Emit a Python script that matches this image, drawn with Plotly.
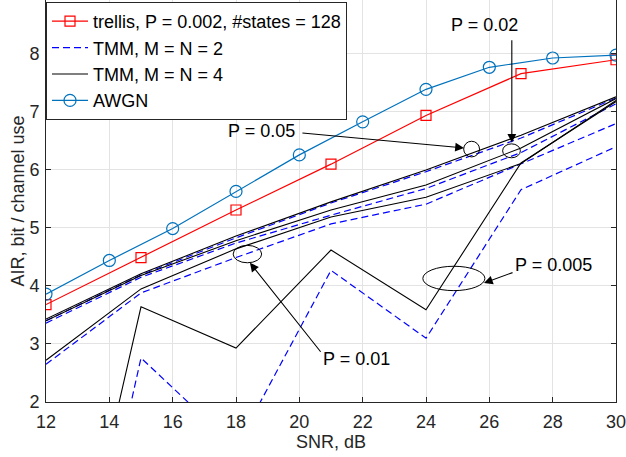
import plotly.graph_objects as go

# ---------------- data ----------------
snr = [12, 15, 18, 21, 24, 27, 30]
snr_awgn = [12, 14, 16, 18, 20, 22, 24, 26, 28, 30]

air_trellis = [3.68, 4.49, 5.31, 6.10, 6.94, 7.66, 7.90]
air_awgn = [3.86, 4.44, 4.99, 5.63, 6.26, 6.83, 7.39, 7.77, 7.93, 7.98]

# TMM, M = N = 4 (solid black)
tmm4_p050 = [3.43, 4.21, 4.86, 5.45, 6.00, 6.60, 7.26]
tmm4_p020 = [3.40, 4.18, 4.78, 5.31, 5.74, 6.38, 7.23]
tmm4_p010 = [2.72, 3.95, 4.64, 5.19, 5.53, 6.11, 7.20]
tmm4_p005 = [-3.50, 3.64, 2.93, 4.62, 3.59, 6.12, 7.18]

# TMM, M = N = 2 (dashed blue)
tmm2_p050 = [3.40, 4.19, 4.83, 5.43, 5.97, 6.55, 7.24]
tmm2_p020 = [3.36, 4.15, 4.74, 5.22, 5.68, 6.30, 7.14]
tmm2_p010 = [2.65, 3.88, 4.49, 5.07, 5.41, 6.10, 6.80]
tmm2_p005 = [-4.60, 2.76, 1.22, 4.27, 3.10, 5.66, 6.40]

x_ticks = [12, 14, 16, 18, 20, 22, 24, 26, 28, 30]
y_ticks = [2, 3, 4, 5, 6, 7, 8]

FONT = "Liberation Sans, Arial, Helvetica, sans-serif"
TXT = "#262626"

fig = go.Figure()

fig.add_trace(go.Scatter(
    x=snr, y=air_trellis, mode="lines+markers",
    name="trellis, P = 0.002, #states = 128",
    line=dict(color="#ff0000", width=1.2),
    marker=dict(symbol="square-open", size=10, color="#ff0000", line=dict(width=1.2)),
    legendrank=1,
))

for i, ys in enumerate([tmm2_p050, tmm2_p020, tmm2_p010, tmm2_p005]):
    fig.add_trace(go.Scatter(
        x=snr, y=ys, mode="lines", name="TMM, M = N = 2",
        line=dict(color="#0000ff", width=1.2, dash="7px,4px"),
        showlegend=(i == 0), legendrank=2,
    ))

for i, ys in enumerate([tmm4_p050, tmm4_p020, tmm4_p010, tmm4_p005]):
    fig.add_trace(go.Scatter(
        x=snr, y=ys, mode="lines", name="TMM, M = N = 4",
        line=dict(color="#000000", width=1.1),
        showlegend=(i == 0), legendrank=3,
    ))

fig.add_trace(go.Scatter(
    x=snr_awgn, y=air_awgn, mode="lines+markers", name="AWGN",
    line=dict(color="#0072BD", width=1.2),
    marker=dict(symbol="circle-open", size=12, color="#0072BD", line=dict(width=1.2)),
    legendrank=4,
))

# ---------------- ellipses ----------------
ellipses = [
    (25.44, 6.36, 0.25, 0.135),
    (26.70, 6.33, 0.28, 0.12),
    (24.88, 4.13, 0.98, 0.21),
    (18.36, 4.55, 0.45, 0.15),
]
for cx, cy, rx, ry in ellipses:
    fig.add_shape(type="circle", xref="x", yref="y",
                  x0=cx - rx, x1=cx + rx, y0=cy - ry, y1=cy + ry,
                  line=dict(color="#000000", width=1))

# ---------------- labels and arrows ----------------
labels = [
    ("P = 0.05", 18.82, 6.67),
    ("P = 0.02", 25.86, 8.50),
    ("P = 0.005", 28.04, 4.36),
    ("P = 0.01", 21.82, 2.74),
]
for t, x, y in labels:
    fig.add_annotation(x=x, y=y, text=t, showarrow=False, xref="x", yref="y",
                       font=dict(family=FONT, size=18, color="#000000"),
                       xanchor="center", yanchor="middle")

arrows = [
    (25.20, 6.38, 20.05, 6.64),
    (26.71, 6.47, 26.71, 8.26),
    (25.83, 4.05, 26.78, 4.24),
    (18.44, 4.40, 20.71, 2.84),
]
for x, y, ax, ay in arrows:
    fig.add_annotation(x=x, y=y, ax=ax, ay=ay, xref="x", yref="y",
                       axref="x", ayref="y", text="", showarrow=True,
                       arrowhead=2, arrowsize=1.6, arrowwidth=1.1,
                       arrowcolor="#000000")

axis_common = dict(
    showgrid=True, gridcolor="#e3e3e3", gridwidth=1,
    showline=True, linecolor=TXT, linewidth=1,
    ticks="inside", ticklen=5, tickcolor=TXT,
    tickfont=dict(family=FONT, size=18, color=TXT),
    zeroline=False,
)

fig.update_layout(
    width=626, height=457,
    margin=dict(l=46, r=10, t=0, b=55, autoexpand=False),
    paper_bgcolor="white", plot_bgcolor="white",
    font=dict(family=FONT, size=18, color=TXT),
    xaxis=dict(range=[12, 30], tickvals=x_ticks,
               title=dict(text="SNR, dB", font=dict(family=FONT, size=18, color=TXT), standoff=4),
               mirror=False, ticklabelstandoff=3, ticklabeloverflow="allow", **axis_common),
    yaxis=dict(range=[2, 8.93], tickvals=y_ticks,
               title=dict(text="AIR, bit / channel use", font=dict(family=FONT, size=18, color=TXT), standoff=0),
               mirror="ticks", ticklabelstandoff=2, ticklabeloverflow="allow", **axis_common),
    legend=dict(x=0, y=0.995, xanchor="left", yanchor="top",
                bgcolor="white", bordercolor=TXT, borderwidth=1,
                font=dict(family=FONT, size=18, color="#000000"),
                itemwidth=36, tracegroupgap=0),
    showlegend=True,
)

fig.write_html("out.html", config={"displayModeBar": False},
               post_script="document.body.style.margin='0';document.body.style.padding='0';")
